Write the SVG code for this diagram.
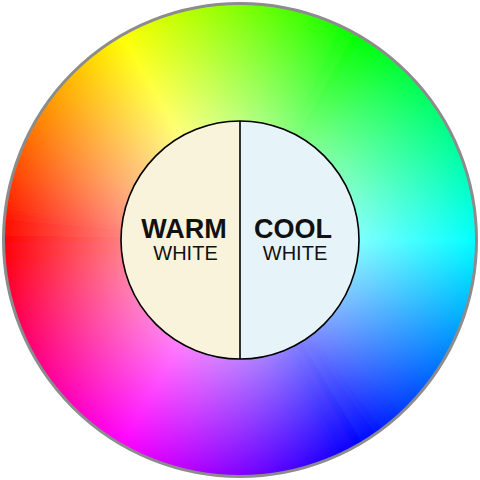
<svg xmlns="http://www.w3.org/2000/svg" xmlns:xlink="http://www.w3.org/1999/xlink" width="480" height="480" viewBox="0 0 480 480">
<style>
.big{font-family:"Liberation Sans",Arial,sans-serif;font-weight:bold;font-size:27px;fill:#111;text-anchor:middle}
.small{font-family:"Liberation Sans",Arial,sans-serif;font-size:20px;fill:#111;text-anchor:middle}
</style>
<defs>
<path id="w" d="M0,0 L240,0 A240,240 0 0 1 239.77,10.47 Z"/>
<clipPath id="c"><circle cx="240" cy="240" r="236.5"/></clipPath>
<filter id="b" x="-10%" y="-10%" width="120%" height="120%"><feGaussianBlur stdDeviation="2.5"/></filter>
<radialGradient id="s" cx="240" cy="240" r="236.5" gradientUnits="userSpaceOnUse"><stop offset="0" stop-color="#fff"/><stop offset="1" stop-color="#fff" stop-opacity="0"/></radialGradient>
</defs>
<g id="wheel">
<g clip-path="url(#c)">
<g filter="url(#b)" transform="translate(240,240)">
<use href="#w" transform="rotate(179)" fill="hsl(0,100%,50%)"/>
<use href="#w" transform="rotate(181)" fill="hsl(2,100%,50%)"/>
<use href="#w" transform="rotate(183)" fill="hsl(4,100%,50%)"/>
<use href="#w" transform="rotate(185)" fill="hsl(6,100%,50%)"/>
<use href="#w" transform="rotate(187)" fill="hsl(8,100%,50%)"/>
<use href="#w" transform="rotate(189)" fill="hsl(10,100%,50%)"/>
<use href="#w" transform="rotate(191)" fill="hsl(12,100%,50%)"/>
<use href="#w" transform="rotate(193)" fill="hsl(14,100%,50%)"/>
<use href="#w" transform="rotate(195)" fill="hsl(16,100%,50%)"/>
<use href="#w" transform="rotate(197)" fill="hsl(18,100%,50%)"/>
<use href="#w" transform="rotate(199)" fill="hsl(20,100%,50%)"/>
<use href="#w" transform="rotate(201)" fill="hsl(22,100%,50%)"/>
<use href="#w" transform="rotate(203)" fill="hsl(24,100%,50%)"/>
<use href="#w" transform="rotate(205)" fill="hsl(26,100%,50%)"/>
<use href="#w" transform="rotate(207)" fill="hsl(28,100%,50%)"/>
<use href="#w" transform="rotate(209)" fill="hsl(30,100%,50%)"/>
<use href="#w" transform="rotate(211)" fill="hsl(32,100%,50%)"/>
<use href="#w" transform="rotate(213)" fill="hsl(34,100%,50%)"/>
<use href="#w" transform="rotate(215)" fill="hsl(36,100%,50%)"/>
<use href="#w" transform="rotate(217)" fill="hsl(38,100%,50%)"/>
<use href="#w" transform="rotate(219)" fill="hsl(40,100%,50%)"/>
<use href="#w" transform="rotate(221)" fill="hsl(42,100%,50%)"/>
<use href="#w" transform="rotate(223)" fill="hsl(44,100%,50%)"/>
<use href="#w" transform="rotate(225)" fill="hsl(46,100%,50%)"/>
<use href="#w" transform="rotate(227)" fill="hsl(48,100%,50%)"/>
<use href="#w" transform="rotate(229)" fill="hsl(50,100%,50%)"/>
<use href="#w" transform="rotate(231)" fill="hsl(52,100%,50%)"/>
<use href="#w" transform="rotate(233)" fill="hsl(54,100%,50%)"/>
<use href="#w" transform="rotate(235)" fill="hsl(56,100%,50%)"/>
<use href="#w" transform="rotate(237)" fill="hsl(58,100%,50%)"/>
<use href="#w" transform="rotate(239)" fill="hsl(60,100%,50%)"/>
<use href="#w" transform="rotate(241)" fill="hsl(62,100%,50%)"/>
<use href="#w" transform="rotate(243)" fill="hsl(64,100%,50%)"/>
<use href="#w" transform="rotate(245)" fill="hsl(66,100%,50%)"/>
<use href="#w" transform="rotate(247)" fill="hsl(68,100%,50%)"/>
<use href="#w" transform="rotate(249)" fill="hsl(70,100%,50%)"/>
<use href="#w" transform="rotate(251)" fill="hsl(72,100%,50%)"/>
<use href="#w" transform="rotate(253)" fill="hsl(74,100%,50%)"/>
<use href="#w" transform="rotate(255)" fill="hsl(76,100%,50%)"/>
<use href="#w" transform="rotate(257)" fill="hsl(78,100%,50%)"/>
<use href="#w" transform="rotate(259)" fill="hsl(80,100%,50%)"/>
<use href="#w" transform="rotate(261)" fill="hsl(82,100%,50%)"/>
<use href="#w" transform="rotate(263)" fill="hsl(84,100%,50%)"/>
<use href="#w" transform="rotate(265)" fill="hsl(86,100%,50%)"/>
<use href="#w" transform="rotate(267)" fill="hsl(88,100%,50%)"/>
<use href="#w" transform="rotate(269)" fill="hsl(90,100%,50%)"/>
<use href="#w" transform="rotate(271)" fill="hsl(92,100%,50%)"/>
<use href="#w" transform="rotate(273)" fill="hsl(94,100%,50%)"/>
<use href="#w" transform="rotate(275)" fill="hsl(96,100%,50%)"/>
<use href="#w" transform="rotate(277)" fill="hsl(98,100%,50%)"/>
<use href="#w" transform="rotate(279)" fill="hsl(100,100%,50%)"/>
<use href="#w" transform="rotate(281)" fill="hsl(102,100%,50%)"/>
<use href="#w" transform="rotate(283)" fill="hsl(104,100%,50%)"/>
<use href="#w" transform="rotate(285)" fill="hsl(106,100%,50%)"/>
<use href="#w" transform="rotate(287)" fill="hsl(108,100%,50%)"/>
<use href="#w" transform="rotate(289)" fill="hsl(110,100%,50%)"/>
<use href="#w" transform="rotate(291)" fill="hsl(112,100%,50%)"/>
<use href="#w" transform="rotate(293)" fill="hsl(114,100%,50%)"/>
<use href="#w" transform="rotate(295)" fill="hsl(116,100%,50%)"/>
<use href="#w" transform="rotate(297)" fill="hsl(118,100%,50%)"/>
<use href="#w" transform="rotate(299)" fill="hsl(120,100%,50%)"/>
<use href="#w" transform="rotate(301)" fill="hsl(122,100%,50%)"/>
<use href="#w" transform="rotate(303)" fill="hsl(124,100%,50%)"/>
<use href="#w" transform="rotate(305)" fill="hsl(126,100%,50%)"/>
<use href="#w" transform="rotate(307)" fill="hsl(128,100%,50%)"/>
<use href="#w" transform="rotate(309)" fill="hsl(130,100%,50%)"/>
<use href="#w" transform="rotate(311)" fill="hsl(132,100%,50%)"/>
<use href="#w" transform="rotate(313)" fill="hsl(134,100%,50%)"/>
<use href="#w" transform="rotate(315)" fill="hsl(136,100%,50%)"/>
<use href="#w" transform="rotate(317)" fill="hsl(138,100%,50%)"/>
<use href="#w" transform="rotate(319)" fill="hsl(140,100%,50%)"/>
<use href="#w" transform="rotate(321)" fill="hsl(142,100%,50%)"/>
<use href="#w" transform="rotate(323)" fill="hsl(144,100%,50%)"/>
<use href="#w" transform="rotate(325)" fill="hsl(146,100%,50%)"/>
<use href="#w" transform="rotate(327)" fill="hsl(148,100%,50%)"/>
<use href="#w" transform="rotate(329)" fill="hsl(150,100%,50%)"/>
<use href="#w" transform="rotate(331)" fill="hsl(152,100%,50%)"/>
<use href="#w" transform="rotate(333)" fill="hsl(154,100%,50%)"/>
<use href="#w" transform="rotate(335)" fill="hsl(156,100%,50%)"/>
<use href="#w" transform="rotate(337)" fill="hsl(158,100%,50%)"/>
<use href="#w" transform="rotate(339)" fill="hsl(160,100%,50%)"/>
<use href="#w" transform="rotate(341)" fill="hsl(162,100%,50%)"/>
<use href="#w" transform="rotate(343)" fill="hsl(164,100%,50%)"/>
<use href="#w" transform="rotate(345)" fill="hsl(166,100%,50%)"/>
<use href="#w" transform="rotate(347)" fill="hsl(168,100%,50%)"/>
<use href="#w" transform="rotate(349)" fill="hsl(170,100%,50%)"/>
<use href="#w" transform="rotate(351)" fill="hsl(172,100%,50%)"/>
<use href="#w" transform="rotate(353)" fill="hsl(174,100%,50%)"/>
<use href="#w" transform="rotate(355)" fill="hsl(176,100%,50%)"/>
<use href="#w" transform="rotate(357)" fill="hsl(178,100%,50%)"/>
<use href="#w" transform="rotate(359)" fill="hsl(180,100%,50%)"/>
<use href="#w" transform="rotate(361)" fill="hsl(182,100%,50%)"/>
<use href="#w" transform="rotate(363)" fill="hsl(184,100%,50%)"/>
<use href="#w" transform="rotate(365)" fill="hsl(186,100%,50%)"/>
<use href="#w" transform="rotate(367)" fill="hsl(188,100%,50%)"/>
<use href="#w" transform="rotate(369)" fill="hsl(190,100%,50%)"/>
<use href="#w" transform="rotate(371)" fill="hsl(192,100%,50%)"/>
<use href="#w" transform="rotate(373)" fill="hsl(194,100%,50%)"/>
<use href="#w" transform="rotate(375)" fill="hsl(196,100%,50%)"/>
<use href="#w" transform="rotate(377)" fill="hsl(198,100%,50%)"/>
<use href="#w" transform="rotate(379)" fill="hsl(200,100%,50%)"/>
<use href="#w" transform="rotate(381)" fill="hsl(202,100%,50%)"/>
<use href="#w" transform="rotate(383)" fill="hsl(204,100%,50%)"/>
<use href="#w" transform="rotate(385)" fill="hsl(206,100%,50%)"/>
<use href="#w" transform="rotate(387)" fill="hsl(208,100%,50%)"/>
<use href="#w" transform="rotate(389)" fill="hsl(210,100%,50%)"/>
<use href="#w" transform="rotate(391)" fill="hsl(212,100%,50%)"/>
<use href="#w" transform="rotate(393)" fill="hsl(214,100%,50%)"/>
<use href="#w" transform="rotate(395)" fill="hsl(216,100%,50%)"/>
<use href="#w" transform="rotate(397)" fill="hsl(218,100%,50%)"/>
<use href="#w" transform="rotate(399)" fill="hsl(220,100%,50%)"/>
<use href="#w" transform="rotate(401)" fill="hsl(222,100%,50%)"/>
<use href="#w" transform="rotate(403)" fill="hsl(224,100%,50%)"/>
<use href="#w" transform="rotate(405)" fill="hsl(226,100%,50%)"/>
<use href="#w" transform="rotate(407)" fill="hsl(228,100%,50%)"/>
<use href="#w" transform="rotate(409)" fill="hsl(230,100%,50%)"/>
<use href="#w" transform="rotate(411)" fill="hsl(232,100%,50%)"/>
<use href="#w" transform="rotate(413)" fill="hsl(234,100%,50%)"/>
<use href="#w" transform="rotate(415)" fill="hsl(236,100%,50%)"/>
<use href="#w" transform="rotate(417)" fill="hsl(238,100%,50%)"/>
<use href="#w" transform="rotate(419)" fill="hsl(240,100%,50%)"/>
<use href="#w" transform="rotate(421)" fill="hsl(242,100%,50%)"/>
<use href="#w" transform="rotate(423)" fill="hsl(244,100%,50%)"/>
<use href="#w" transform="rotate(425)" fill="hsl(246,100%,50%)"/>
<use href="#w" transform="rotate(427)" fill="hsl(248,100%,50%)"/>
<use href="#w" transform="rotate(429)" fill="hsl(250,100%,50%)"/>
<use href="#w" transform="rotate(431)" fill="hsl(252,100%,50%)"/>
<use href="#w" transform="rotate(433)" fill="hsl(254,100%,50%)"/>
<use href="#w" transform="rotate(435)" fill="hsl(256,100%,50%)"/>
<use href="#w" transform="rotate(437)" fill="hsl(258,100%,50%)"/>
<use href="#w" transform="rotate(439)" fill="hsl(260,100%,50%)"/>
<use href="#w" transform="rotate(441)" fill="hsl(262,100%,50%)"/>
<use href="#w" transform="rotate(443)" fill="hsl(264,100%,50%)"/>
<use href="#w" transform="rotate(445)" fill="hsl(266,100%,50%)"/>
<use href="#w" transform="rotate(447)" fill="hsl(268,100%,50%)"/>
<use href="#w" transform="rotate(449)" fill="hsl(270,100%,50%)"/>
<use href="#w" transform="rotate(451)" fill="hsl(272,100%,50%)"/>
<use href="#w" transform="rotate(453)" fill="hsl(274,100%,50%)"/>
<use href="#w" transform="rotate(455)" fill="hsl(276,100%,50%)"/>
<use href="#w" transform="rotate(457)" fill="hsl(278,100%,50%)"/>
<use href="#w" transform="rotate(459)" fill="hsl(280,100%,50%)"/>
<use href="#w" transform="rotate(461)" fill="hsl(282,100%,50%)"/>
<use href="#w" transform="rotate(463)" fill="hsl(284,100%,50%)"/>
<use href="#w" transform="rotate(465)" fill="hsl(286,100%,50%)"/>
<use href="#w" transform="rotate(467)" fill="hsl(288,100%,50%)"/>
<use href="#w" transform="rotate(469)" fill="hsl(290,100%,50%)"/>
<use href="#w" transform="rotate(471)" fill="hsl(292,100%,50%)"/>
<use href="#w" transform="rotate(473)" fill="hsl(294,100%,50%)"/>
<use href="#w" transform="rotate(475)" fill="hsl(296,100%,50%)"/>
<use href="#w" transform="rotate(477)" fill="hsl(298,100%,50%)"/>
<use href="#w" transform="rotate(479)" fill="hsl(300,100%,50%)"/>
<use href="#w" transform="rotate(481)" fill="hsl(302,100%,50%)"/>
<use href="#w" transform="rotate(483)" fill="hsl(304,100%,50%)"/>
<use href="#w" transform="rotate(485)" fill="hsl(306,100%,50%)"/>
<use href="#w" transform="rotate(487)" fill="hsl(308,100%,50%)"/>
<use href="#w" transform="rotate(489)" fill="hsl(310,100%,50%)"/>
<use href="#w" transform="rotate(491)" fill="hsl(312,100%,50%)"/>
<use href="#w" transform="rotate(493)" fill="hsl(314,100%,50%)"/>
<use href="#w" transform="rotate(495)" fill="hsl(316,100%,50%)"/>
<use href="#w" transform="rotate(497)" fill="hsl(318,100%,50%)"/>
<use href="#w" transform="rotate(499)" fill="hsl(320,100%,50%)"/>
<use href="#w" transform="rotate(501)" fill="hsl(322,100%,50%)"/>
<use href="#w" transform="rotate(503)" fill="hsl(324,100%,50%)"/>
<use href="#w" transform="rotate(505)" fill="hsl(326,100%,50%)"/>
<use href="#w" transform="rotate(507)" fill="hsl(328,100%,50%)"/>
<use href="#w" transform="rotate(509)" fill="hsl(330,100%,50%)"/>
<use href="#w" transform="rotate(511)" fill="hsl(332,100%,50%)"/>
<use href="#w" transform="rotate(513)" fill="hsl(334,100%,50%)"/>
<use href="#w" transform="rotate(515)" fill="hsl(336,100%,50%)"/>
<use href="#w" transform="rotate(517)" fill="hsl(338,100%,50%)"/>
<use href="#w" transform="rotate(519)" fill="hsl(340,100%,50%)"/>
<use href="#w" transform="rotate(521)" fill="hsl(342,100%,50%)"/>
<use href="#w" transform="rotate(523)" fill="hsl(344,100%,50%)"/>
<use href="#w" transform="rotate(525)" fill="hsl(346,100%,50%)"/>
<use href="#w" transform="rotate(527)" fill="hsl(348,100%,50%)"/>
<use href="#w" transform="rotate(529)" fill="hsl(350,100%,50%)"/>
<use href="#w" transform="rotate(531)" fill="hsl(352,100%,50%)"/>
<use href="#w" transform="rotate(533)" fill="hsl(354,100%,50%)"/>
<use href="#w" transform="rotate(535)" fill="hsl(356,100%,50%)"/>
<use href="#w" transform="rotate(537)" fill="hsl(358,100%,50%)"/>
</g>
<circle cx="240" cy="240" r="236.5" fill="url(#s)"/>
</g>
<circle cx="240" cy="240" r="236.5" fill="none" stroke="#8c8c8c" stroke-width="3"/>
</g>
<g id="warm">
<path d="M240,121 A119,119 0 0 0 240,359 Z" fill="#faf3dc"/>
<text class="big" x="184" y="238">WARM</text>
<text class="small" x="185.5" y="260">WHITE</text>
</g>
<g id="cool">
<path d="M240,121 A119,119 0 0 1 240,359 Z" fill="#e6f4fa"/>
<text class="big" x="293" y="238">COOL</text>
<text class="small" x="295" y="260">WHITE</text>
</g>
<g id="outline" fill="none" stroke="#000" stroke-width="1.6">
<circle cx="240" cy="240" r="119"/>
<line x1="240" y1="121" x2="240" y2="359"/>
</g>
</svg>
